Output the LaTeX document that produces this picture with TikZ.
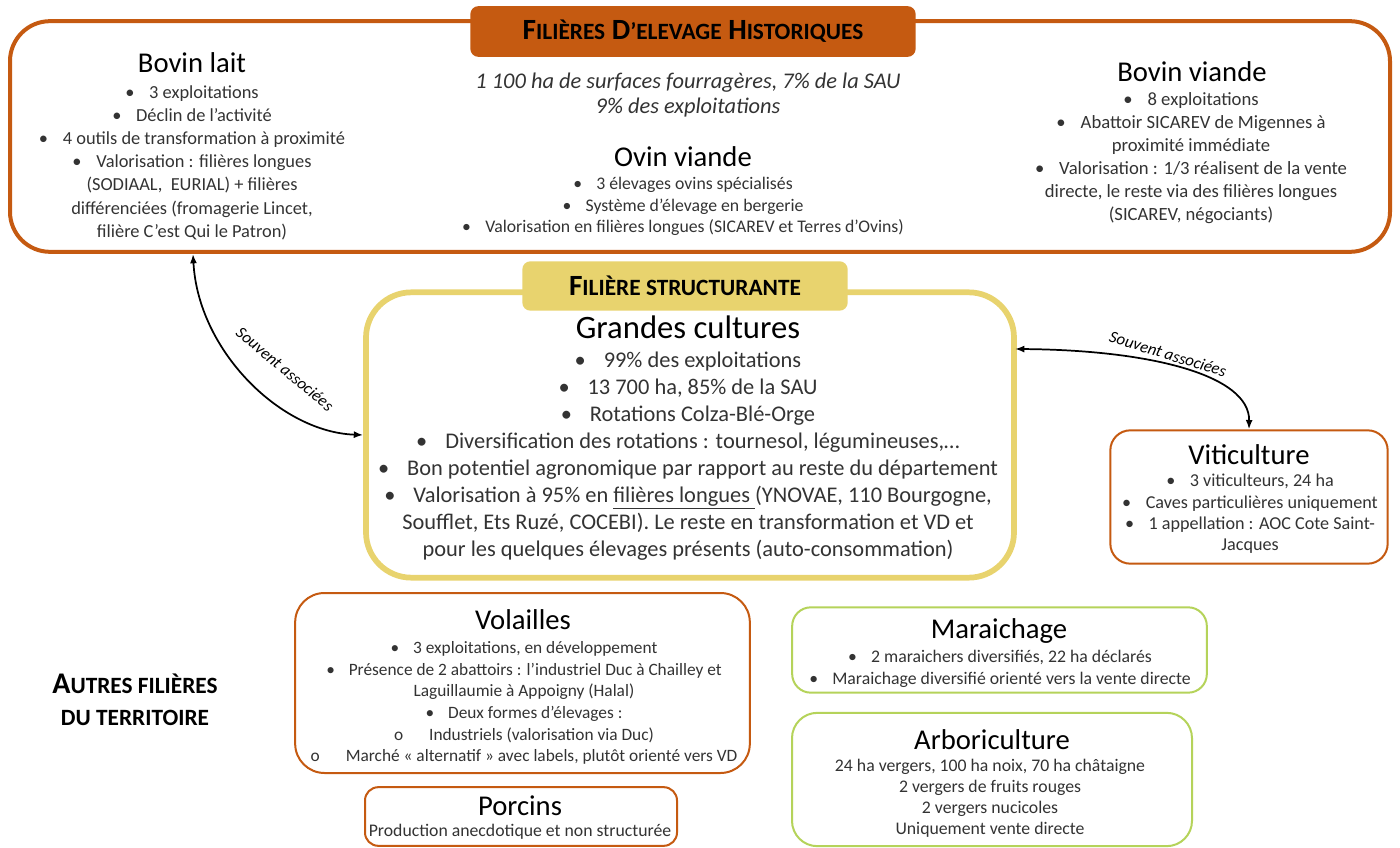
\documentclass[tikz,border=0pt]{standalone}
\usepackage{fontspec}
\setmainfont{Carlito}
\usetikzlibrary{arrows.meta}
\definecolor{histo}{HTML}{C55A11}
\definecolor{structu}{HTML}{E8D36E}
\definecolor{autres}{HTML}{B5D35A}
\definecolor{texte}{HTML}{333333}
\newcommand{\itm}{\textbullet\hspace{0.8em}}
\newcommand{\sitm}{o\hspace{1.5em}}
\newcommand{\fs}[2]{\fontsize{#1}{#2}\selectfont}
\newcommand{\petit}[1]{{\fontsize{17.5}{17.5}\selectfont #1}}
\tikzset{
    histbox/.style={draw=histo, line width=3pt, rounded corners=30pt},
    structbox/.style={draw=structu, line width=4.3pt, rounded corners=34pt},
    autrebox/.style={draw=#1, line width=1.5pt, fill=white},
    bandeau/.style={fill=#1, rounded corners=6pt, font=\fs{22}{22}\bfseries},
    titre/.style={inner sep=0pt, font=\fs{21.5}{21.5}},
    corps/.style={inner sep=0pt, align=center, text=texte},
    lien/.style={{Latex[length=7pt]}-{Latex[length=7pt]}, line width=1.3pt},
    lienlabel/.style={inner sep=0pt, font=\fs{12.5}{12.5}\itshape}
}
\begin{document}
\begin{tikzpicture}[x=0.75pt, y=-0.75pt]
    \useasboundingbox (0, 0) rectangle (1400, 848);
    \node[histbox, minimum width=1035pt, minimum height=173pt] (hist) at(700, 136.5) {};
    \node[bandeau=histo, minimum width=334pt, minimum height=38pt] (histtitre) at(693, 31.5) {F\petit{ILIÈRES} D\petit{’ELEVAGE} H\petit{ISTORIQUES}};
    \node[titre] (lait) at(192, 63) {Bovin lait};
    \node[corps, font=\fs{13.8}{17.4}] (laitliste) at(192, 162.5) {\itm 3 exploitations\\
        \itm Déclin de l’activité\\
        \itm 4 outils de transformation à proximité\\
        \itm Valorisation : filières longues\\
        (SODIAAL,\ \ EURIAL) + filières\\
        différenciées (fromagerie Lincet,\\
        filière C’est Qui le Patron)};
    \node[corps, font=\fs{16.8}{18.75}\itshape] (surfaces) at(688, 95.5) {1 100 ha de surfaces fourragères, 7\% de la SAU\\
        9\% des exploitations};
    \node[titre] (ovin) at(683, 157) {Ovin viande};
    \node[corps, font=\fs{13.3}{16.1}] (ovinliste) at(683, 206.5) {\itm 3 élevages ovins spécialisés\\
        \itm Système d’élevage en bergerie\\
        \itm Valorisation en filières longues (SICAREV et Terres d’Ovins)};
    \node[titre] (viande) at(1192, 72) {Bovin viande};
    \node[corps, font=\fs{14}{17.25}] (viandeliste) at(1191, 158.5) {\itm 8 exploitations\\
        \itm Abattoir SICAREV de Migennes à\\
        proximité immédiate\\
        \itm Valorisation : 1/3 réalisent de la vente\\
        directe, le reste via des filières longues\\
        (SICAREV, négociants)};
    \node[structbox, minimum width=486pt, minimum height=214pt] (gc) at(690, 435) {};
    \node[bandeau=structu, minimum width=244pt, minimum height=37pt] (gctitre) at(685, 286) {F\petit{ILIÈRE STRUCTURANTE}};
    \node[titre, font=\fs{24.5}{24.5}] (grandes) at(688, 327) {Grandes cultures};
    \node[corps, font=\fs{16.8}{20.25}] (gcliste) at(688, 456) {\itm 99\% des exploitations\\
        \itm 13 700 ha, 85\% de la SAU\\
        \itm Rotations Colza-Blé-Orge\\
        \itm Diversification des rotations : tournesol, légumineuses,…\\
        \itm Bon potentiel agronomique par rapport au reste du département\\
        \itm Valorisation à 95\% en \underline{filières longues }(YNOVAE, 110 Bourgogne,\\
        Soufflet, Ets Ruzé, COCEBI). Le reste en transformation et VD et\\
        pour les quelques élevages présents (auto-consommation)};
    \node[autrebox=histo, rounded corners=15pt, minimum width=208pt, minimum height=100pt] (viti) at(1249, 497) {};
    \node[titre] (vitititre) at(1249, 455) {Viticulture};
    \node[corps, font=\fs{13.6}{16}] (vitiliste) at(1250, 514) {\itm 3 viticulteurs, 24 ha\\
        \itm Caves particulières uniquement\\
        \itm 1 appellation : AOC Cote Saint-\\
        Jacques};
    \coordinate (laitpied) at(193, 254);
    \coordinate (gcflanc) at(1015, 349);
    \draw[lien] (laitpied) .. controls (198, 350) and (280, 432) .. (gc.west);
    \draw[lien] (gcflanc) .. controls (1150, 350) and (1250, 375) .. (viti.north);
    \node[lienlabel, rotate=-40] (assoc1) at(285, 369) {Souvent associées};
    \node[lienlabel, rotate=-17] (assoc2) at(1168, 354) {Souvent associées};
    \node[font=\fs{22.5}{24}\bfseries, align=center] (autrestitre) at(135, 700) {A\petit{UTRES FILIÈRES}\\ \petit{DU TERRITOIRE}};
    \node[autrebox=histo, rounded corners=22pt, minimum width=341pt, minimum height=135pt] (volailles) at(522.5, 683) {};
    \node[titre] (volaillestitre) at(523, 620) {Volailles};
    \node[corps, font=\fs{13}{16.2}] (volaillesliste) at(524, 703) {\itm 3 exploitations, en développement\\
        \itm Présence de 2 abattoirs : l’industriel Duc à Chailley et\\
        Laguillaumie à Appoigny (Halal)\\
        \itm Deux formes d’élevages :\\
        \sitm Industriels (valorisation via Duc)\\
        \sitm Marché « alternatif » avec labels, plutôt orienté vers VD};
    \node[autrebox=histo, rounded corners=10pt, minimum width=234pt, minimum height=44pt] (porcins) at(521, 816.5) {};
    \node[titre] (porcinstitre) at(520, 806) {Porcins};
    \node[corps, font=\fs{13.3}{14}] (porcinsliste) at(520, 832) {Production anecdotique et non structurée};
    \node[autrebox=autres, rounded corners=14pt, minimum width=311pt, minimum height=64pt] (maraich) at(999.5, 650) {};
    \node[titre] (maraichtitre) at(999, 631) {Maraichage};
    \node[corps, font=\fs{13.3}{16.5}] (maraichliste) at(1000, 669) {\itm 2 maraichers diversifiés, 22 ha déclarés\\
        \itm Maraichage diversifié orienté vers la vente directe};
    \node[autrebox=autres, rounded corners=19pt, minimum width=300pt, minimum height=100pt] (arbo) at(992, 779.5) {};
    \node[titre] (arbotitre) at(992, 740) {Arboriculture};
    \node[corps, font=\fs{13.3}{15.75}] (arboliste) at(990, 798.5) {24 ha vergers, 100 ha noix, 70 ha châtaigne\\
        2 vergers de fruits rouges\\
        2 vergers nucicoles\\
        Uniquement vente directe};
\end{tikzpicture}
\end{document}
